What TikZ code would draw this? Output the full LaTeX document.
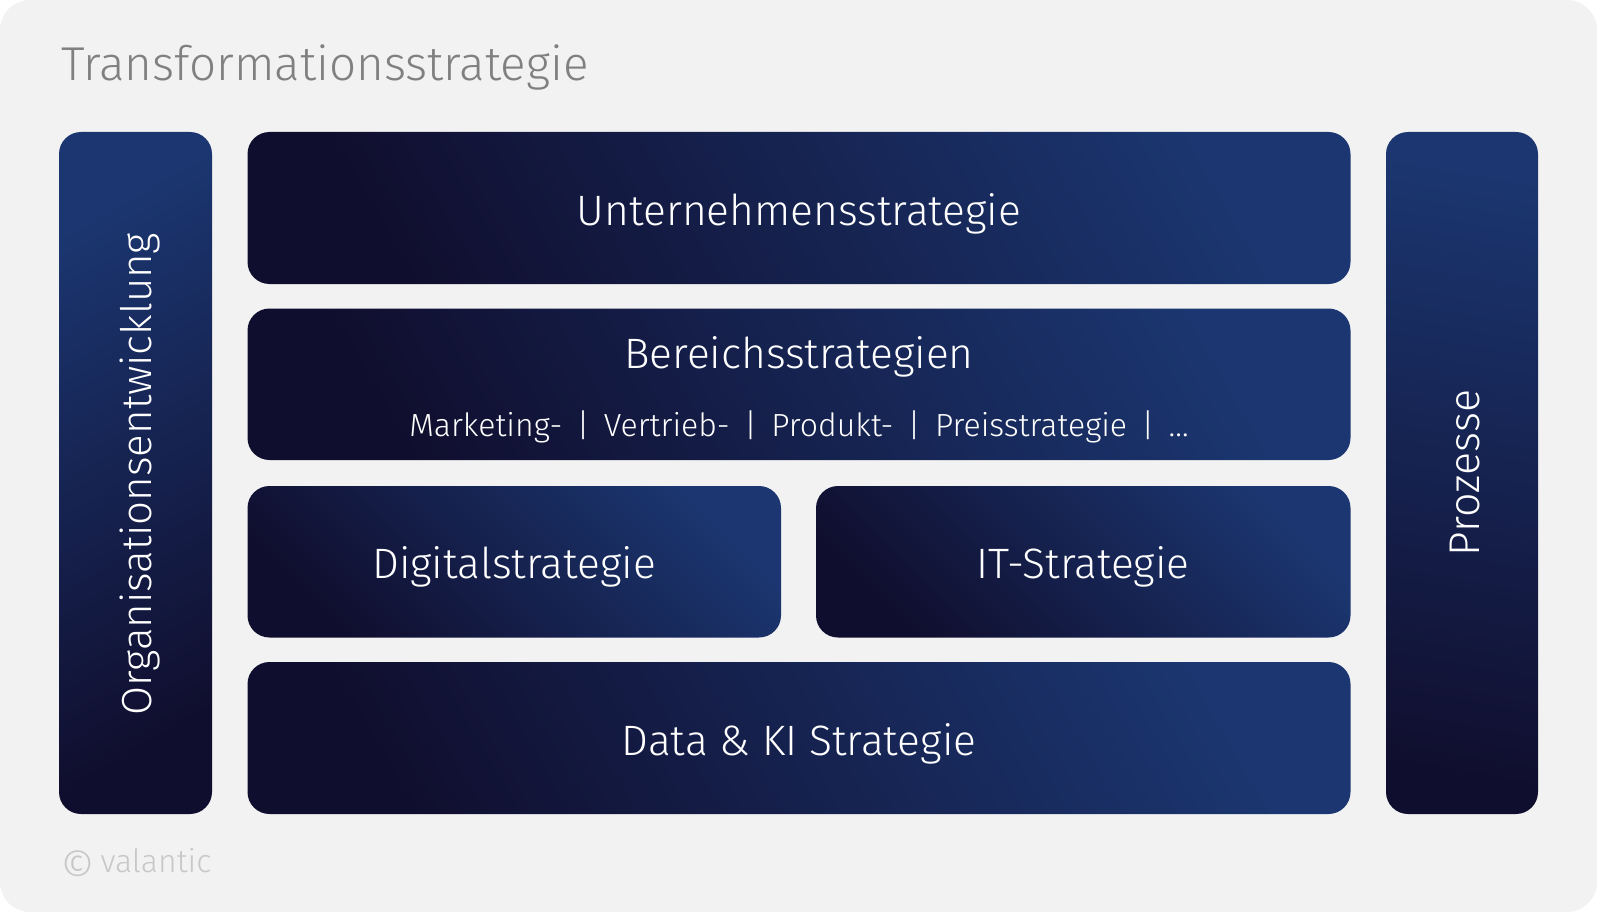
\documentclass[tikz,border=0pt]{standalone}
\usepackage{fontspec}
\setmainfont{Fira Sans}[UprightFont=* Light]
\definecolor{bgc}{HTML}{F2F2F2}
\definecolor{navyd}{HTML}{100E2E}
\definecolor{navyl}{HTML}{1B3670}
\definecolor{titlec}{HTML}{808080}
\definecolor{copyc}{HTML}{C8C8C8}
\tikzset{
  box/.style={rounded corners=22pt, top color=navyl, bottom color=navyd, shading angle=-60, draw=none, inner sep=0pt},
  colbox/.style={rounded corners=22pt, top color=navyl, bottom color=navyd, shading angle=20, draw=none, inner sep=0pt},
  lbl/.style={text=white, font=\fontsize{42.5}{50}\selectfont, anchor=base},
  sublbl/.style={text=white, font=\fontsize{32}{38}\selectfont, anchor=base},
}
\begin{document}
\begin{tikzpicture}[x=1pt,y=-1pt]
\useasboundingbox (0,0) rectangle (1597,912);
\fill[white] (0,0) rectangle (1597,912);
\fill[bgc, rounded corners=30pt] (0,0) rectangle (1597,912);
\node[text=titlec, font=\fontsize{47.5}{56}\selectfont, anchor=base west, inner sep=0pt] (title) at (61,81) {Transformationsstrategie};
% columns
\path[colbox, shading angle=30] (59,132) rectangle (212,814);
\path[colbox, shading angle=-10] (1386,132) rectangle (1538,814);
% boxes
\path[box] (247.5,132) rectangle (1350.5,284);
\path[box] (247.5,308.5) rectangle (1350.5,460);
\path[box, shading angle=-45] (247.5,486) rectangle (781,637.5);
\path[box, shading angle=-45] (816,486) rectangle (1350.5,637.5);
\path[box] (247.5,662) rectangle (1350.5,814);
% labels
\node[lbl] (u) at (799,225) {Unternehmensstrategie};
\node[lbl] (b) at (799,368) {Bereichsstrategien};
\node[sublbl] (m) at (799,436) {Marketing- \,|\, Vertrieb- \,|\, Produkt- \,|\, Preisstrategie \,|\, \dots};
\node[lbl] (d) at (514,578) {Digitalstrategie};
\node[lbl] (it) at (1083,578) {IT-Strategie};
\node[lbl] (dk) at (799,755) {Data \& KI Strategie};
\node[text=white, font=\fontsize{42}{50}\selectfont, rotate=90, anchor=center] (o) at (140,474) {Organisationsentwicklung};
\node[text=white, font=\fontsize{43}{50}\selectfont, rotate=90, anchor=center] (p) at (1465,473) {Prozesse};
\node[text=copyc, font=\fontsize{32}{38}\selectfont, anchor=base west, inner sep=0pt] (c) at (60,872) {\raisebox{-0.34em}{\scalebox{1.35}{\char"00A9}}\,valantic};
\end{tikzpicture}
\end{document}
